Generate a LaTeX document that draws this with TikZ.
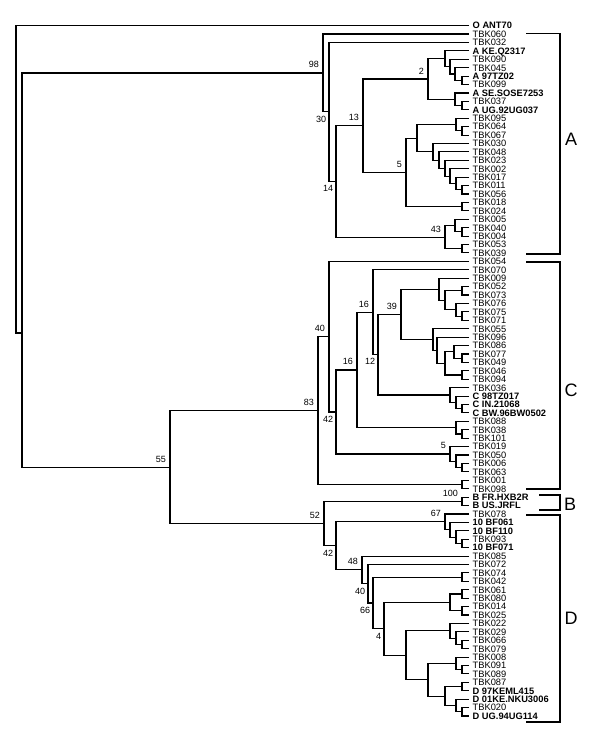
\documentclass[tikz,border=0pt]{standalone}
\usepackage{fontspec}
\setmainfont{Liberation Sans}
\usetikzlibrary{calc,positioning}

\tikzset{
  branch/.style={black, line width=1.1pt, line join=miter},
  leaf/.style={anchor=west, inner sep=0pt, inner xsep=3.5pt, text height=6.7pt, text depth=0pt,
    font=\fontsize{9.3}{10}\selectfont},
  refseq/.style={font=\fontsize{9.3}{10}\selectfont\bfseries},
  tbkseq/.style={},
  boot/.style={inner sep=0pt, font=\fontsize{9}{10}\selectfont},
  bsup/.style={boot, above left=4.8pt and 4pt of #1},
  bsdn/.style={boot, below left=3.8pt and 2.7pt of #1},
  bracket/.style={black, line width=1.1pt},
  grp/.style={inner sep=0pt, font=\fontsize{18}{20}\selectfont},
}

% clade: name, x, upper child, lower child
\newcommand\clade[4]{%
  \path let \p1=(#3), \p2=(#4) in (#2pt,{(\y1+\y2)/2}) coordinate (#1);
  \draw[branch] (#3) -| (#1) |- (#4);
}

\begin{document}
\begin{tikzpicture}[x=1pt,y=-1pt]
  \useasboundingbox (0,0) rectangle (600,743);
  % leaves
  \foreach \s/\t [count=\i] in {refseq/O ANT70,tbkseq/TBK060,tbkseq/TBK032,refseq/A KE.Q2317,
      tbkseq/TBK090,tbkseq/TBK045,refseq/A 97TZ02,tbkseq/TBK099,refseq/A SE.SOSE7253,
      tbkseq/TBK037,refseq/A UG.92UG037,tbkseq/TBK095,tbkseq/TBK064,tbkseq/TBK067,
      tbkseq/TBK030,tbkseq/TBK048,tbkseq/TBK023,tbkseq/TBK002,tbkseq/TBK017,tbkseq/TBK011,
      tbkseq/TBK056,tbkseq/TBK018,tbkseq/TBK024,tbkseq/TBK005,tbkseq/TBK040,tbkseq/TBK004,
      tbkseq/TBK053,tbkseq/TBK039,tbkseq/TBK054,tbkseq/TBK070,tbkseq/TBK009,tbkseq/TBK052,
      tbkseq/TBK073,tbkseq/TBK076,tbkseq/TBK075,tbkseq/TBK071,tbkseq/TBK055,tbkseq/TBK096,
      tbkseq/TBK086,tbkseq/TBK077,tbkseq/TBK049,tbkseq/TBK046,tbkseq/TBK094,tbkseq/TBK036,
      refseq/C 98TZ017,refseq/C IN.21068,refseq/C BW.96BW0502,tbkseq/TBK088,tbkseq/TBK038,
      tbkseq/TBK101,tbkseq/TBK019,tbkseq/TBK050,tbkseq/TBK006,tbkseq/TBK063,tbkseq/TBK001,
      tbkseq/TBK098,refseq/B FR.HXB2R,refseq/B US.JRFL,tbkseq/TBK078,refseq/10 BF061,
      refseq/10 BF110,tbkseq/TBK093,refseq/10 BF071,tbkseq/TBK085,tbkseq/TBK072,tbkseq/TBK074,
      tbkseq/TBK042,tbkseq/TBK061,tbkseq/TBK080,tbkseq/TBK014,tbkseq/TBK025,tbkseq/TBK022,
      tbkseq/TBK029,tbkseq/TBK066,tbkseq/TBK079,tbkseq/TBK008,tbkseq/TBK091,tbkseq/TBK089,
      tbkseq/TBK087,refseq/D 97KEML415,refseq/D 01KE.NKU3006,tbkseq/TBK020,refseq/D UG.94UG114}
    \node[leaf,\s] (l\i) at (469,{25.6+(\i-1)*8.42}) {\t};

  % subtype A
  \clade{a4}{462}{l7.west}{l8.west}
  \clade{a3}{455}{l6.west}{a4}
  \clade{a2}{450}{l5.west}{a3}
  \clade{a1}{445}{l4.west}{a2}
  \clade{b2}{462}{l10.west}{l11.west}
  \clade{b1}{455}{l9.west}{b2}
  \clade{n2}{428}{a1}{b1}
  \clade{c2b}{462}{l13.west}{l14.west}
  \clade{c2}{456}{l12.west}{c2b}
  \clade{c8}{462}{l20.west}{l21.west}
  \clade{c7}{456}{l19.west}{c8}
  \clade{c6}{450}{l18.west}{c7}
  \clade{c5}{445}{l17.west}{c6}
  \clade{c4}{439}{l16.west}{c5}
  \clade{c3}{433}{l15.west}{c4}
  \clade{c1}{417}{c2}{c3}
  \clade{c9}{462}{l22.west}{l23.west}
  \clade{n5}{406}{c1}{c9}
  \clade{n13}{363}{n2}{n5}
  \clade{d1b}{462}{l25.west}{l26.west}
  \clade{d1}{455}{l24.west}{d1b}
  \clade{d2}{462}{l27.west}{l28.west}
  \clade{n43}{445}{d1}{d2}
  \clade{n14}{336}{n13}{n43}
  \clade{n30}{329}{l3.west}{n14}
  \clade{n98}{323}{l2.west}{n30}

  % subtype C
  \clade{e4}{462}{l35.west}{l36.west}
  \clade{e3}{456}{l34.west}{e4}
  \clade{e2b}{462}{l32.west}{l33.west}
  \clade{e2}{445}{e2b}{e3}
  \clade{e1}{439}{l31.west}{e2}
  \clade{f4b}{462}{l40.west}{l41.west}
  \clade{f4}{454}{l39.west}{f4b}
  \clade{f5}{462}{l42.west}{l43.west}
  \clade{f3}{445}{f4}{f5}
  \clade{f2}{437}{l38.west}{f3}
  \clade{f1}{433}{l37.west}{f2}
  \clade{n39}{401}{e1}{f1}
  \clade{g3}{462}{l46.west}{l47.west}
  \clade{g2}{456}{l45.west}{g3}
  \clade{g1}{450}{l44.west}{g2}
  \clade{n12}{378}{n39}{g1}
  \clade{n16a}{373}{l30.west}{n12}
  \clade{h3b}{462}{l49.west}{l50.west}
  \clade{h3}{456}{l48.west}{h3b}
  \clade{n16b}{357}{n16a}{h3}
  \clade{h2}{462}{l53.west}{l54.west}
  \clade{h1}{456}{l52.west}{h2}
  \clade{n5c}{450}{l51.west}{h1}
  \clade{n42}{336}{n16b}{n5c}
  \clade{n40}{329}{l29.west}{n42}
  \clade{k0}{462}{l55.west}{l56.west}
  \clade{n83}{318}{n40}{k0}

  % subtypes B and D
  \clade{nB}{462}{l57.west}{l58.west}
  \clade{i3}{462}{l62.west}{l63.west}
  \clade{i2}{456}{l61.west}{i3}
  \clade{i1}{450}{l60.west}{i2}
  \clade{n67}{445}{l59.west}{i1}
  \clade{j1}{462}{l66.west}{l67.west}
  \clade{k2}{462}{l68.west}{l69.west}
  \clade{k3}{462}{l70.west}{l71.west}
  \clade{k1}{450}{k2}{k3}
  \clade{m3}{462}{l74.west}{l75.west}
  \clade{m2}{456}{l73.west}{m3}
  \clade{m1}{450}{l72.west}{m2}
  \clade{p1b}{462}{l77.west}{l78.west}
  \clade{p1}{456}{l76.west}{p1b}
  \clade{q1}{462}{l79.west}{l80.west}
  \clade{q3}{462}{l82.west}{l83.west}
  \clade{q2}{456}{l81.west}{q3}
  \clade{p2}{445}{q1}{q2}
  \clade{n2d}{428}{p1}{p2}
  \clade{m0}{406}{m1}{n2d}
  \clade{n4}{384}{k1}{m0}
  \clade{n66}{373}{j1}{n4}
  \clade{n40b}{368}{l65.west}{n66}
  \clade{n48}{362}{l64.west}{n40b}
  \clade{n42b}{336}{n67}{n48}
  \clade{n52}{324}{nB}{n42b}
  \clade{n55}{170}{n83}{n52}

  % root
  \coordinate (n1) at (22,333);
  \draw[branch] (n98) -| (n1) |- (n55);
  \clade{root}{16}{l1.west}{n1}

  % bootstrap values
  \foreach \n/\v in {n98/98,n13/13,n2/2,n5/5,n43/43,n55/55,n83/83,n40/40,n16b/16,n16a/16,
      n39/39,n5c/5,nB/100,n52/52,n67/67,n48/48}
    \node[bsup=\n] (t\n) {\v};
  \foreach \n/\v in {n30/30,n14/14,n42/42,n12/12,n42b/42,n40b/40,n66/66,n4/4}
    \node[bsdn=\n] (t\n) {\v};

  % subtype brackets
  \draw[bracket] (526,33.5) -- (560,33.5) -- (560,254) -- (526,254);
  \draw[bracket] (526,262) -- (560,262) -- (560,489) -- (526,489);
  \draw[bracket] (539,495) -- (560,495) -- (560,510) -- (539,510);
  \draw[bracket] (526,515) -- (560,515) -- (560,722) -- (526,722);
  \node[grp] (gA) at (571,139.7) {A};
  \node[grp] (gC) at (571,390) {C};
  \node[grp] (gB) at (570,504) {B};
  \node[grp] (gD) at (571,618) {D};
\end{tikzpicture}
\end{document}
